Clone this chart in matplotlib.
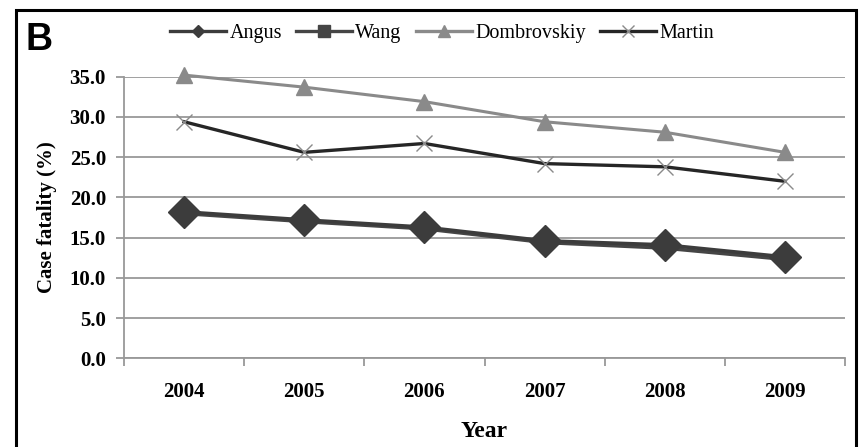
import matplotlib
matplotlib.use("Agg")
import matplotlib.pyplot as plt
from matplotlib.lines import Line2D
from matplotlib.patches import Rectangle

years = ["2004", "2005", "2006", "2007", "2008", "2009"]
angus = [18.2, 17.2, 16.3, 14.6, 14.1, 12.6]
wang = [18.0, 17.0, 16.1, 14.4, 13.7, 12.3]
dombrovskiy = [35.2, 33.7, 31.9, 29.4, 28.1, 25.6]
martin = [29.4, 25.6, 26.7, 24.2, 23.8, 22.0]
yticks = [0, 5, 10, 15, 20, 25, 30, 35]

serif = "Liberation Serif"

fig = plt.figure(figsize=(8.61, 4.47), dpi=100)
ax = fig.add_axes([124 / 861, 1 - 358.3 / 447, (845 - 124) / 861, (358.3 - 76.7) / 447])

x = list(range(1, len(years) + 1))

# series styles: (values, label, color, marker, size, line width)
styles = [
    (wang, "Wang", "#454545", "s", 8, 2.6),
    (angus, "Angus", "#3c3c3c", "D", 16, 2.6),
    (dombrovskiy, "Dombrovskiy", "#8a8a8a", "^", 11, 2.2),
    (martin, "Martin", "#262626", "x", 12, 2.4),
]
for vals, lab, col, mk, ms, lw in styles:
    mec = "#8a8a8a" if mk == "x" else col
    ax.plot(x, vals, color=col, lw=lw, marker=mk, markersize=ms,
            markerfacecolor=col, markeredgecolor=mec, markeredgewidth=1.0,
            clip_on=False, zorder=3, solid_joinstyle="round")

ax.set_xlim(0.5, len(years) + 0.5)
ax.set_ylim(0, 35)
ax.set_yticks(yticks)
ax.set_yticklabels([f"{v:.1f}" for v in yticks], fontfamily=serif,
                   fontweight="bold", fontsize=15)
ax.set_xticks(x)
ax.set_xticklabels(years, fontfamily=serif, fontweight="bold", fontsize=15)
ax.set_xticks([v + 0.5 for v in range(0, len(years) + 1)], minor=True)
ax.tick_params(axis="x", which="major", length=0, pad=17)
ax.tick_params(axis="x", which="minor", length=6, color="#999999", width=1.3,
               direction="out")
ax.tick_params(axis="y", length=6, color="#999999", width=1.3, pad=7)

ax.grid(axis="y", color="#999999", lw=1.3)
ax.set_axisbelow(True)
for s in ["top", "right"]:
    ax.spines[s].set_visible(False)
for s in ["left", "bottom"]:
    ax.spines[s].set_color("#999999")
    ax.spines[s].set_linewidth(1.3)

ax.set_ylabel("Case fatality (%)", fontfamily=serif, fontweight="bold",
              fontsize=15, labelpad=9)
ax.set_xlabel("Year", fontfamily=serif, fontweight="bold", fontsize=17,
              labelpad=14)

# legend handles with small markers
handles = []
for vals, lab, col, mk, ms, lw in [styles[1], styles[0], styles[2], styles[3]]:
    mec = "#8a8a8a" if mk == "x" else col
    handles.append(Line2D([], [], color=col, lw=2.4, marker=mk,
                          markersize=8 if mk != "D" else 6,
                          markerfacecolor=col, markeredgecolor=mec, label=lab))
fig.legend(handles=handles, loc="center", bbox_to_anchor=(442 / 861, 1 - 33 / 447),
           ncol=4, frameon=False, handlelength=2.8, handletextpad=0.15,
           columnspacing=0.7, prop={"family": serif, "size": 14.5})

fig.text(26 / 861, 1 - 40 / 447, "B", fontfamily="Liberation Sans",
         fontweight="bold", fontsize=27, va="center", ha="left")

fig.patches.append(Rectangle((16 / 861, -0.1), (856 - 16) / 861, 1.1 - 10 / 447,
                             transform=fig.transFigure, fill=False,
                             edgecolor="black", lw=2.2))

fig.savefig("out.png", dpi=100)
